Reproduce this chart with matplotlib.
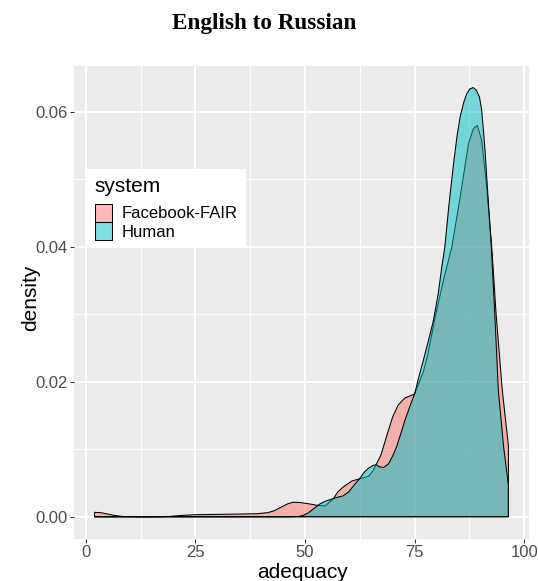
import numpy as np
import matplotlib.pyplot as plt
from matplotlib.colors import to_rgba
from matplotlib.patches import Patch

# density estimates of adequacy scores, one curve per system
systems = ['Facebook-FAIR', 'Human']
colors = ['#F8766D', '#00BFC4']

fair_x = [2.0, 3.5, 5.0, 6.5, 8.5, 12, 16, 19, 22, 25, 30, 35, 39, 41.5, 43.0,
          44.5, 46.0, 47.3, 49.0, 51.0, 52.7, 54.6, 56.5, 57.5, 58.7, 60.7,
          62.4, 63.5, 64.5, 65.5, 66.2, 67.3, 68.6, 70.0, 71.3, 72.8, 75.0,
          77.0, 78.0, 79.7, 81.6, 83.5, 85.4, 87.3, 88.4, 89.3, 90.3, 91.3,
          92.6, 93.6, 95.0, 96.4]
fair_density = [0.00065, 0.0006, 0.0004, 0.0002, 0.00003, 0.0, 0.0, 0.00005,
                0.0002, 0.0003, 0.00035, 0.0004, 0.00045, 0.0006, 0.0009,
                0.0014, 0.0019, 0.00215, 0.0021, 0.0019, 0.0017, 0.0016,
                0.0027, 0.0037, 0.0044, 0.0053, 0.0056, 0.0058, 0.0060, 0.0068,
                0.0077, 0.0091, 0.0119, 0.0148, 0.0166, 0.0176, 0.0182, 0.0215,
                0.024, 0.0296, 0.0351, 0.040, 0.0474, 0.0553, 0.0575, 0.058,
                0.0558, 0.0499, 0.040, 0.030, 0.0188, 0.0105]

human_x = [2.0, 10, 20, 30, 40, 46, 48.5, 49.6, 50.8, 52.0, 53.4, 54.6, 55.6,
           56.5, 57.5, 58.7, 60.0, 61.2, 62.4, 63.5, 64.5, 65.5, 66.2, 67.0,
           67.9, 69.0, 70.0, 70.9, 72.0, 72.8, 74.0, 75.0, 76.0, 77.0, 78.2,
           79.3, 80.4, 81.2, 81.9, 82.8, 83.9, 84.7, 85.4, 86.2, 86.9, 87.6,
           88.4, 89.1, 89.8, 90.3, 90.7, 91.1, 91.5, 92.0, 92.5, 93.3, 94.1,
           95.3, 96.4]
human_density = [0, 0, 0, 0, 0, 0, 0.00003, 0.0002, 0.0006, 0.0012, 0.0019,
                 0.0023, 0.0025, 0.0027, 0.0029, 0.0031, 0.0037, 0.0047,
                 0.0056, 0.0066, 0.0072, 0.0076, 0.0077, 0.0074, 0.0073,
                 0.0078, 0.0090, 0.0104, 0.0126, 0.0143, 0.0165, 0.0182,
                 0.0208, 0.0232, 0.0262, 0.0291, 0.0331, 0.0370, 0.040, 0.046,
                 0.0524, 0.0565, 0.0593, 0.0614, 0.0627, 0.0634, 0.0636,
                 0.0632, 0.0622, 0.0603, 0.0573, 0.054, 0.0499, 0.045, 0.040,
                 0.030, 0.0188, 0.0104, 0.0047]

x_ticks = [0, 25, 50, 75, 100]
y_ticks = [0.00, 0.02, 0.04, 0.06]

W, H = 538, 581
fig = plt.figure(figsize=(W / 100, H / 100), dpi=100)
ax = fig.add_axes([74 / W, 1 - 539 / H, 455 / W, 473 / H])
ax.set_facecolor('#EBEBEB')

for xs, ds, col in [(fair_x, fair_density, colors[0]),
                    (human_x, human_density, colors[1])]:
    xs = np.asarray(xs, float)
    ds = np.asarray(ds, float)
    px = np.r_[xs, xs[-1], xs[0]]
    py = np.r_[ds, 0, 0]
    ax.fill(px, py, facecolor=to_rgba(col, 0.5), edgecolor='black',
            linewidth=0.75, zorder=2)

ax.set_xlim(-2.7, 101.1)
ax.set_ylim(-0.0033, 0.0668)
ax.set_xticks(x_ticks)
ax.set_xticklabels([str(t) for t in x_ticks])
ax.set_yticks(y_ticks)
ax.set_yticklabels([f'{t:.2f}' for t in y_ticks])
ax.set_xticks([12.5, 37.5, 62.5, 87.5], minor=True)
ax.set_yticks([0.01, 0.03, 0.05], minor=True)
ax.grid(which='major', color='white', linewidth=1.4)
ax.grid(which='minor', color='white', linewidth=0.7)
ax.set_axisbelow(True)
ax.tick_params(which='major', length=3.0, width=0.75, color='#333333',
               labelsize=12, labelcolor='#4D4D4D', pad=1.5)
ax.tick_params(which='minor', length=0)
for lab in ax.get_xticklabels() + ax.get_yticklabels():
    lab.set_family('Liberation Sans')
for s in ax.spines.values():
    s.set_visible(False)

fig.text(264 / W, 1 - 23 / H, 'English to Russian', family='Liberation Serif',
         weight='bold', size=16.7, ha='center', va='center')
fig.text(31 / W, 1 - 298 / H, 'density', family='Liberation Sans', size=15,
         rotation=90, ha='center', va='center')
fig.text(302 / W, 1 - 572 / H, 'adequacy', family='Liberation Sans', size=15,
         ha='center', va='center')

handles = [Patch(facecolor=to_rgba(c, 0.5), edgecolor='black', linewidth=0.75)
           for c in colors]
leg = ax.legend(handles, systems, title='system', loc='upper left',
                bbox_to_anchor=((87 - 74) / 455, (539 - 169) / 473),
                frameon=True, fancybox=False, framealpha=1, edgecolor='white',
                prop={'family': 'Liberation Sans', 'size': 12},
                handlelength=1.05, handleheight=1.3, handletextpad=0.6,
                labelspacing=0.0, borderpad=0.45, borderaxespad=0,
                alignment='left')
leg.get_title().set_family('Liberation Sans')
leg.get_title().set_fontsize(15)
leg.get_frame().set_linewidth(0)
leg._legend_box.sep = 6

fig.savefig('out.png', dpi=100)
